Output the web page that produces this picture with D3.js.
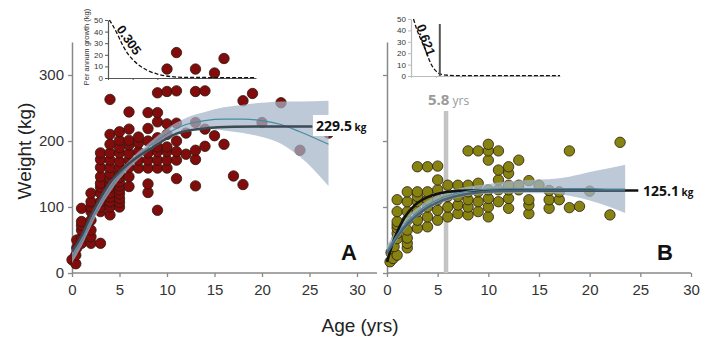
<!DOCTYPE html>
<html>
<head>
<meta charset="utf-8">
<script src="https://cdn.jsdelivr.net/npm/d3@7"></script>
<style>
  body { margin: 0; background: #fff; }
  svg { font-family: "Liberation Sans", Arial, sans-serif; }
  .axis text { fill: #333; }
</style>
</head>
<body>
<div id="chart"></div>
<script>
const width = 718;
const height = 342;

// ---- panel A (red) points ----
const ageA = [0, 0.4, 0.4, 0.5, 0.5,
  1, 1, 1, 1, 1, 1,
  2, 2, 2, 2, 2, 2, 2, 2,
  3, 3, 3, 3, 3, 3, 3, 3, 3, 3, 3,
  4, 4, 4, 4, 4, 4, 4, 4, 4, 4, 4, 4, 4, 4, 4,
  5, 5, 5, 5, 5, 5, 5, 5, 5, 5, 5, 5, 5, 5, 5,
  6, 6, 6, 6, 6, 6, 6, 6, 6,
  7, 7, 7, 7, 7,
  8, 8, 8, 8, 8, 8, 8, 8,
  9, 9, 9, 9, 9, 9, 9, 9, 9,
  10, 10, 10, 10, 10, 10, 10, 10,
  11, 11, 11, 11, 11, 11, 11,
  12, 12,
  13, 13, 13, 13, 13, 13,
  14, 14, 14,
  15, 15, 16, 16, 17, 18, 18, 19, 20, 22, 24, 27];
const weightA = [20, 14, 27, 38, 50,
  45, 53, 65, 72, 78, 98,
  45, 55, 65, 80, 93, 100, 108, 121,
  45, 93, 100, 108, 121, 130, 136, 146, 160, 172, 182,
  88, 100, 108, 115, 121, 130, 136, 143, 151, 160, 171, 182, 195, 210, 263,
  100, 107, 113, 120, 126, 132, 138, 145, 151, 160, 169, 182, 190, 201, 214,
  131, 146, 160, 171, 181, 194, 201, 218, 244,
  159, 171, 184, 197, 206,
  122, 135, 159, 171, 182, 200, 219, 243,
  95, 159, 171, 184, 191, 205, 229, 243, 273,
  159, 171, 184, 191, 210, 226, 275, 309,
  143, 171, 184, 200, 227, 276, 334,
  180, 212,
  132, 172, 186, 228, 275, 309,
  192, 218, 276,
  208, 303, 195, 325, 147, 134, 261, 272, 228, 258, 186, 212];

// ---- panel B (olive) points ----
const ageB = [0.3, 0.4, 0.6, 1, 0.7,
  1, 1, 1, 1, 1, 1, 1,
  2, 2, 2, 2, 2, 2, 2, 2,
  3, 3, 3, 3, 3, 3, 3,
  4, 4, 4, 4, 4, 4,
  5, 5, 5, 5, 5, 5,
  6, 6, 6, 6,
  7, 7, 7, 7,
  8, 8, 8, 8, 8, 8,
  9, 9, 9, 9, 9,
  10, 10, 10, 10, 10, 10, 10,
  11, 11, 11, 11, 11,
  12, 12, 12, 12, 12, 12,
  13, 13, 13,
  14, 14, 14, 14,
  15, 16, 16, 16, 17, 17, 18, 18, 19, 20, 22, 23];
const weightB = [17, 31, 22, 27, 40,
  52, 60, 68, 73, 78, 93, 111,
  38, 45, 53, 65, 80, 93, 108, 123,
  68, 80, 93, 108, 116, 123, 161,
  70, 85, 100, 111, 123, 161,
  80, 95, 111, 126, 141, 162,
  85, 100, 116, 133,
  90, 103, 116, 133,
  88, 100, 111, 123, 133, 185,
  93, 108, 123, 136, 185,
  85, 100, 113, 126, 171, 185, 195,
  108, 126, 141, 156, 185,
  98, 113, 126, 133, 151, 161,
  126, 133, 171,
  90, 103, 111, 140,
  133, 98, 111, 125, 111, 123, 99, 185, 101, 124, 88, 198];

// ---- fitted curves ----
const fitAgeA = [0, 1, 2, 3, 4, 5, 6, 7, 8, 9, 10, 11, 12, 14, 17, 20, 25.3];
const fitWeightA = [32, 56, 87, 114, 137, 153, 166, 177, 186, 195, 204, 211, 215, 219, 221.5, 222, 222];

const smoothAgeA = [0, 1, 2, 3, 4, 5, 6, 7, 8, 9, 10, 11, 12, 14, 16, 18, 20, 22, 24, 27];
const smoothWeightA = [25, 48, 78, 105, 128, 148, 164, 178, 190, 201, 211, 219, 225, 231, 233, 233, 231, 225, 214, 195];
const bandLowA = [15, 40, 71, 99, 122, 142, 158, 172, 184, 194, 203, 210, 215, 218, 216, 212, 206, 196, 176, 132];
const bandHighA = [35, 56, 85, 111, 134, 154, 170, 184, 196, 208, 219, 228, 235, 244, 251, 255, 258, 260, 260, 261];

const fitAgeB = [0, 0.5, 1, 1.5, 2, 2.5, 3, 4, 5, 6, 7, 8, 10, 24.8];
const fitWeightB = [17, 42, 62, 78, 90, 99, 106, 115, 120, 123, 124.5, 125, 125.1, 125.1];

const vbAgeB = [0, 1, 2, 3, 4, 5, 6, 7, 8, 9, 10, 12, 15, 23.5];
const vbWeightB = [30, 55, 74, 88, 99, 107, 113, 117, 120, 122, 123.5, 124.5, 125, 125];

const smoothAgeB = [0, 1, 2, 3, 4, 5, 6, 7, 8, 10, 12, 14, 16, 18, 20, 22, 23.5];
const smoothWeightB = [33, 58, 78, 92, 103, 111, 117, 121, 124, 127, 128, 128, 128, 128, 128, 127, 127];
const bandLowB = [22, 50, 70, 85, 96, 104, 110, 114, 117, 120, 121, 121, 121, 117, 110, 100, 91];
const bandHighB = [42, 66, 86, 99, 110, 118, 124, 128, 131, 135, 139, 141, 142, 146, 153, 159, 164];

// ---- insets: per annum growth ----
const insetAgeA = [0.3, 1, 2, 3, 4, 5, 6, 7, 8, 10, 13, 16, 30];
const insetGrowthA = [50, 45, 37, 28, 21, 16, 12, 9, 6.5, 3.4, 1.1, 0.5, 0.3];
const insetAgeB = [0.5, 1, 1.5, 2, 2.5, 3, 3.5, 4, 4.5, 5, 5.8, 7, 9, 30];
const insetGrowthB = [50, 43, 37, 32, 27, 22, 16, 11, 7, 4.5, 1.8, 0.8, 0.4, 0.3];

const weightTicks = [0, 100, 200, 300];
const ageTicks = [0, 5, 10, 15, 20, 25, 30];
const growthTicks = [0, 10, 20, 30, 40, 50];
const maturityAgeB = 5.8;

const svg = d3.select("#chart").append("svg")
  .attr("width", width)
  .attr("height", height);

// SCALES
const yScale = d3.scaleLinear().domain([0, 350]).range([273, 42]);
const xScaleA = d3.scaleLinear().domain([0, 30]).range([72, 357]);
const xScaleB = d3.scaleLinear().domain([0, 30]).range([387, 691]);

function drawAxes(xScale, showYLabels, xEnd) {
  const yAxis = d3.axisLeft(yScale).tickValues(weightTicks).tickSize(4).tickSizeOuter(0);
  if (!showYLabels) yAxis.tickFormat("");
  const gy = svg.append("g")
    .attr("class", "axis")
    .attr("transform", `translate(${xScale(0)},0)`)
    .call(yAxis);
  gy.select(".domain").attr("stroke", "#888").attr("stroke-width", 1.5);
  gy.selectAll(".tick line").attr("stroke", "#888").attr("stroke-width", 1.3);
  gy.selectAll("text").style("font-size", "15px").attr("x", -8);

  const xAxis = d3.axisBottom(xScale).tickValues(ageTicks).tickSize(4).tickSizeOuter(0);
  const gx = svg.append("g")
    .attr("class", "axis")
    .attr("transform", `translate(0,${yScale(0)})`)
    .call(xAxis);
  gx.select(".domain").remove();
  gx.append("line")
    .attr("x1", xScale(0)).attr("x2", xScale(xEnd))
    .attr("stroke", "#888").attr("stroke-width", 1.5);
  gx.selectAll(".tick line").attr("stroke", "#888").attr("stroke-width", 1.3);
  gx.selectAll("text").style("font-size", "15px").attr("y", 11);
}

function drawPanel(xScale, ages, weights, fill, bandAges, lows, highs) {
  const pts = ages.map((a, i) => ({ age: a, weight: weights[i] }));
  svg.append("g")
    .selectAll("circle")
    .data(pts)
    .join("circle")
    .attr("cx", (d) => xScale(d.age))
    .attr("cy", (d) => yScale(d.weight))
    .attr("r", 5.2)
    .attr("fill", fill)
    .attr("stroke", "#2a1a10")
    .attr("stroke-width", 0.8);

  const band = bandAges.map((a, i) => ({ age: a, lo: lows[i], hi: highs[i] }));
  const area = d3.area()
    .x((d) => xScale(d.age))
    .y0((d) => yScale(d.lo))
    .y1((d) => yScale(d.hi))
    .curve(d3.curveMonotoneX);
  svg.append("path")
    .attr("d", area(band))
    .attr("fill", "#a3b4c8")
    .attr("opacity", 0.72);
}

function curvePath(xScale, ages, values, color, w) {
  const line = d3.line()
    .x((d) => xScale(d[0]))
    .y((d) => yScale(d[1]))
    .curve(d3.curveMonotoneX);
  svg.append("path")
    .attr("d", line(ages.map((a, i) => [a, values[i]])))
    .attr("fill", "none")
    .attr("stroke", color)
    .attr("stroke-width", w);
}

// PANEL A
drawAxes(xScaleA, true, 32.1);
drawPanel(xScaleA, ageA, weightA, "#820b0b", smoothAgeA, bandLowA, bandHighA);
curvePath(xScaleA, smoothAgeA, smoothWeightA, "#4a8aa3", 1.2);
curvePath(xScaleA, fitAgeA, fitWeightA, "#3b4a55", 2.4);

// PANEL B
drawAxes(xScaleB, false, 30);
svg.append("rect")
  .attr("x", xScaleB(maturityAgeB) - 2)
  .attr("y", 111)
  .attr("width", 4.5)
  .attr("height", yScale(0) - 111)
  .attr("fill", "#c4c4c4");
drawPanel(xScaleB, ageB, weightB, "#878311", smoothAgeB, bandLowB, bandHighB);
curvePath(xScaleB, fitAgeB, fitWeightB, "#111", 2.6);
curvePath(xScaleB, vbAgeB, vbWeightB, "#4b6070", 2.6);
curvePath(xScaleB, smoothAgeB, smoothWeightB, "#4a8aa3", 1.2);

// asymptote labels
function asymLabel(x, y, num) {
  const g = svg.append("g").attr("transform", `translate(${x},${y})`);
  const t = g.append("text")
    .attr("y", 5)
    .style("font-family", "'Open Sans', sans-serif")
    .style("font-weight", "bold")
    .style("fill", "#111");
  t.append("tspan").text(num).style("font-size", "14px");
  t.append("tspan").text(" kg").style("font-size", "10px");
  const bb = t.node().getBBox();
  g.insert("rect", "text")
    .attr("x", bb.x - 3).attr("y", bb.y - 1)
    .attr("width", bb.width + 6).attr("height", bb.height + 2)
    .attr("fill", "#fff");
}
asymLabel(316, 126, "229.5");
asymLabel(643, 191, "125.1");

// 5.8 yrs label
const mat = svg.append("text")
  .attr("x", 428)
  .attr("y", 105)
  .style("font-family", "'Open Sans', sans-serif")
  .style("fill", "#9a9a9a")
  .style("font-weight", "bold");
mat.append("tspan").text("5.8").style("font-size", "15px");
mat.append("tspan").text(" yrs").style("font-size", "12px").style("font-weight", "normal");

// panel letters
svg.append("text").text("A")
  .attr("x", 349).attr("y", 260)
  .attr("text-anchor", "middle")
  .style("font-size", "22px").style("font-weight", "bold").style("fill", "#111");
svg.append("text").text("B")
  .attr("x", 665).attr("y", 260)
  .attr("text-anchor", "middle")
  .style("font-size", "22px").style("font-weight", "bold").style("fill", "#111");

// axis titles
svg.append("text").text("Weight (kg)")
  .attr("transform", "translate(31,151) rotate(-90)")
  .attr("text-anchor", "middle")
  .style("font-size", "19px").style("fill", "#222");
svg.append("text").text("Age (yrs)")
  .attr("x", 360).attr("y", 332)
  .attr("text-anchor", "middle")
  .style("font-size", "19px").style("fill", "#222");

// INSETS
function drawInset(x0, x1, y0, y1, ages, growth, axisColor, rateText, rateX, rateY, rateAngle) {
  const xs = d3.scaleLinear().domain([0, 30]).range([x0, x1]);
  const ys = d3.scaleLinear().domain([0, 50]).range([y0, y1]);
  const gy = svg.append("g")
    .attr("class", "axis")
    .attr("transform", `translate(${x0},0)`)
    .call(d3.axisLeft(ys).tickValues(growthTicks).tickSize(3).tickSizeOuter(0));
  gy.select(".domain").attr("stroke", axisColor).attr("stroke-width", 1.2);
  gy.selectAll(".tick line").attr("stroke", axisColor);
  gy.selectAll("text").style("font-size", "8px").attr("x", -5);
  const gx = svg.append("g")
    .attr("class", "axis")
    .attr("transform", `translate(0,${y0})`)
    .call(d3.axisBottom(xs).tickValues([0, 5, 10]).tickSize(2).tickSizeOuter(0).tickFormat(""));
  gx.select(".domain").attr("stroke", axisColor).attr("stroke-width", 1.2);
  gx.selectAll(".tick line").attr("stroke", axisColor);

  const line = d3.line()
    .x((d) => xs(d[0]))
    .y((d) => ys(d[1]))
    .curve(d3.curveMonotoneX);
  svg.append("path")
    .attr("d", line(ages.map((a, i) => [a, growth[i]])))
    .attr("fill", "none")
    .attr("stroke", "#111")
    .attr("stroke-width", 1.3)
    .attr("stroke-dasharray", "4,2");

  svg.append("text").text(rateText)
    .attr("transform", `translate(${rateX},${rateY}) rotate(${rateAngle})`)
    .attr("text-anchor", "middle")
    .attr("dy", "0.35em")
    .style("font-size", "13px").style("font-weight", "bold").style("fill", "#111");
  return xs;
}

drawInset(108, 256, 78, 20, insetAgeA, insetGrowthA, "#555", "0.305", 129, 40, 55);
svg.append("text").text("Per annum growth (kg)")
  .attr("transform", "translate(86,47) rotate(-90)")
  .attr("text-anchor", "middle")
  .attr("dy", "0.35em")
  .style("font-size", "7.5px").style("fill", "#333");

const xsB = drawInset(411, 560, 76, 19, insetAgeB, insetGrowthB, "#bbb", "0.621", 426, 40, 70);
svg.append("line")
  .attr("x1", xsB(maturityAgeB)).attr("x2", xsB(maturityAgeB))
  .attr("y1", 24).attr("y2", 76)
  .attr("stroke", "#555").attr("stroke-width", 2);
</script>
</body>
</html>
